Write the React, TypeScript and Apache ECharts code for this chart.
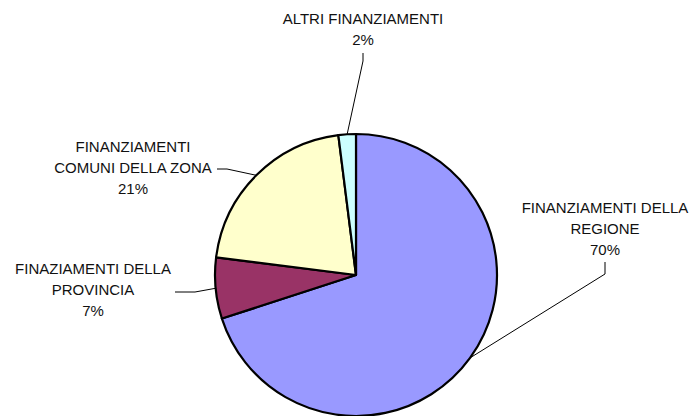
import React, { useEffect, useRef } from "react";
import * as echarts from "echarts";

const categories = [
  "FINANZIAMENTI DELLA\nREGIONE",
  "FINAZIAMENTI DELLA\nPROVINCIA",
  "FINANZIAMENTI\nCOMUNI DELLA ZONA",
  "ALTRI FINANZIAMENTI",
];
const values = [70, 7, 21, 2];
const colors = ["#9999FF", "#993366", "#FFFFCC", "#CCFFFF"];

// label anchor (centre x, middle y) and label-line bend/end points
const labelAnchors = [
  { x: 605, y: 228, line: [[605, 274], [605, 262]] },
  { x: 93, y: 289, line: [[195, 292], [175, 292]] },
  { x: 133, y: 167, line: [[227, 169], [217, 169]] },
  { x: 363, y: 29, line: [[363, 61], [363, 53]] },
];

export default function App() {
  const ref = useRef<HTMLDivElement>(null);
  useEffect(() => {
    document.body.style.margin = "0";
    const chart = echarts.init(ref.current!, null, { renderer: "svg" });
    chart.setOption({
      animation: false,
      backgroundColor: "#ffffff",
      series: [
        {
          type: "pie",
          center: [356, 275],
          radius: 141,
          startAngle: 90,
          clockwise: true,
          percentPrecision: 0,
          data: categories.map((name, i) => ({
            name,
            value: values[i],
            itemStyle: { color: colors[i] },
          })),
          itemStyle: { borderColor: "#000", borderWidth: 2.2 },
          label: {
            show: true,
            position: "outside",
            formatter: "{b}\n{d}%",
            fontFamily: "Liberation Sans, Arial, sans-serif",
            fontSize: 15,
            lineHeight: 21,
            color: "#111",
            align: "center",
          },
          labelLine: {
            show: true,
            length: 10,
            length2: 10,
            lineStyle: { color: "#000", width: 1 },
          },
          labelLayout: (params: any) => {
            const a = labelAnchors[params.dataIndex];
            const p0 = params.labelLinePoints
              ? params.labelLinePoints[0]
              : [a.line[0][0], a.line[0][1]];
            return {
              x: a.x,
              y: a.y,
              align: "center",
              verticalAlign: "middle",
              labelLinePoints: [p0, a.line[0], a.line[1]],
            };
          },
          emphasis: { disabled: true },
        },
      ],
    });
    return () => chart.dispose();
  }, []);
  return <div ref={ref} style={{ width: 691, height: 416 }} />;
}
